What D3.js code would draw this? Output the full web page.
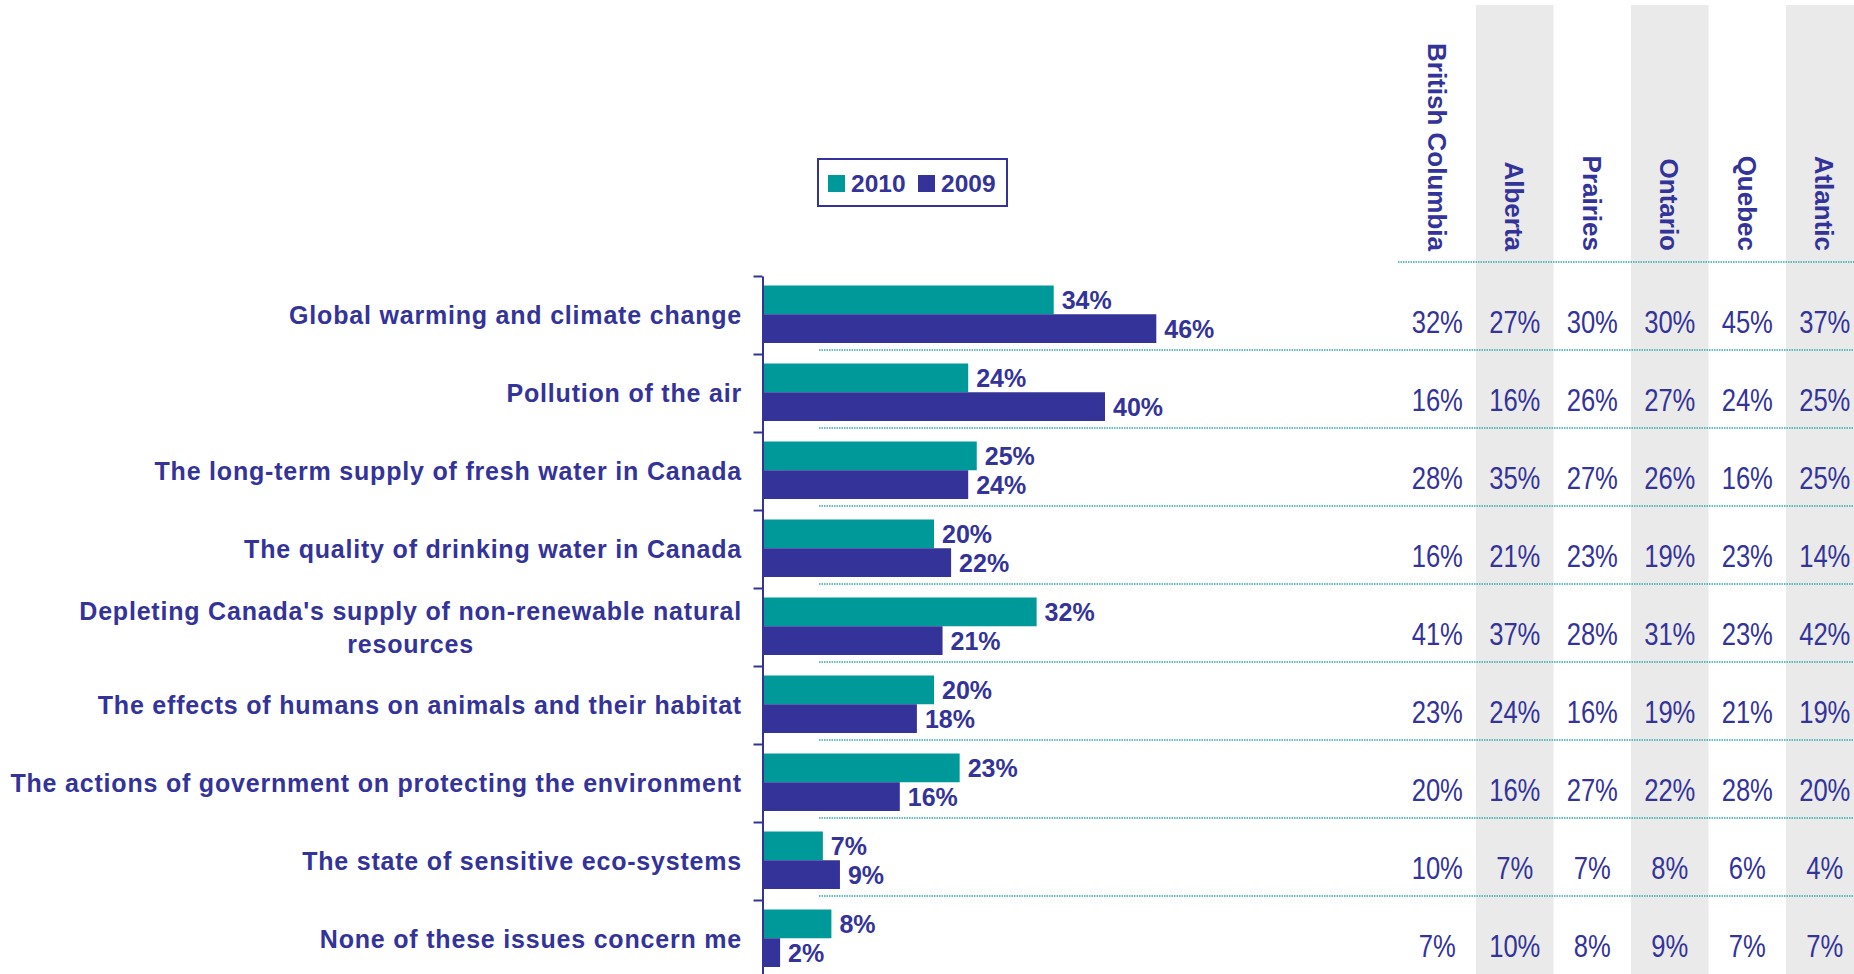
<!DOCTYPE html>
<html lang="en">
  <head>
    <meta charset="UTF-8" />
    <title>Environmental issues of concern</title>
    <style>
      html, body {
        margin: 0;
        padding: 0;
        background: #fff;
      }
      svg text {
        font-family: "Liberation Sans", Arial, sans-serif;
        fill: #333399;
      }
      .cat {
        font-size: 25px;
        font-weight: bold;
        letter-spacing: 0.8px;
      }
      .val {
        font-size: 25px;
        font-weight: bold;
      }
      .head {
        font-size: 26px;
        font-weight: bold;
      }
      .cell {
        font-size: 32px;
      }
      .sep {
        stroke: #33a9a9;
        stroke-width: 1.5;
        stroke-dasharray: 1.5 1;
      }
    </style>
    <script src="https://cdn.jsdelivr.net/npm/d3@7"></script>
  </head>
  <body>
    <svg id="chart" width="1854" height="974"></svg>
    <script>
      const categories = [
        ["Global warming and climate change"],
        ["Pollution of the air"],
        ["The long-term supply of fresh water in Canada"],
        ["The quality of drinking water in Canada"],
        ["Depleting Canada's supply of non-renewable natural", "resources"],
        ["The effects of humans on animals and their habitat"],
        ["The actions of government on protecting the environment"],
        ["The state of sensitive eco-systems"],
        ["None of these issues concern me"],
      ];
      const series = ["2010", "2009"];
      const values2010 = [34, 24, 25, 20, 32, 20, 23, 7, 8];
      const values2009 = [46, 40, 24, 22, 21, 18, 16, 9, 2];

      const regions = ["British Columbia", "Alberta", "Prairies", "Ontario", "Quebec", "Atlantic"];
      const bcValues = [32, 16, 28, 16, 41, 23, 20, 10, 7];
      const albertaValues = [27, 16, 35, 21, 37, 24, 16, 7, 10];
      const prairiesValues = [30, 26, 27, 23, 28, 16, 27, 7, 8];
      const ontarioValues = [30, 27, 26, 19, 31, 19, 22, 8, 9];
      const quebecValues = [45, 24, 16, 23, 23, 21, 28, 6, 7];
      const atlanticValues = [37, 25, 25, 14, 42, 19, 20, 4, 7];

      const colors = { "2010": "#009999", "2009": "#333399" };
      const regionValues = [bcValues, albertaValues, prairiesValues, ontarioValues, quebecValues, atlanticValues];

      const svg = d3.select("#chart");
      const W = 1854, H = 974;

      const idx = d3.range(categories.length);
      const y = d3.scaleBand().domain(idx).range([276, 978]);
      const ySub = d3.scaleBand().domain(series).range([9.5, 67]);
      const x = d3.scaleLinear().domain([0, 50]).range([763, 763 + 427.5]);
      const col = d3.scaleBand().domain(regions).range([1398.5, 1863.5]);

      // striped region columns
      svg.append("g")
        .selectAll("rect")
        .data(regions.filter((_, i) => i % 2 === 1))
        .join("rect")
        .attr("x", (d) => col(d))
        .attr("y", 5)
        .attr("width", col.bandwidth())
        .attr("height", H - 5)
        .attr("fill", "#eaeaea");

      // dotted separators
      svg.append("line")
        .attr("class", "sep")
        .attr("x1", 1398).attr("x2", W)
        .attr("y1", 262).attr("y2", 262);

      svg.append("g")
        .selectAll("line")
        .data(idx.slice(0, -1))
        .join("line")
        .attr("class", "sep")
        .attr("x1", 819).attr("x2", W)
        .attr("y1", (i) => y(i) + y.bandwidth() - 4)
        .attr("y2", (i) => y(i) + y.bandwidth() - 4);

      // bars
      const rows = svg.append("g")
        .selectAll("g")
        .data(idx)
        .join("g")
        .attr("transform", (i) => `translate(0,${y(i)})`);

      const barData = (i) => [
        { s: "2010", v: values2010[i] },
        { s: "2009", v: values2009[i] },
      ];

      rows.selectAll("rect")
        .data(barData)
        .join("rect")
        .attr("x", x(0))
        .attr("y", (d) => ySub(d.s))
        .attr("width", (d) => x(d.v) - x(0))
        .attr("height", ySub.bandwidth())
        .attr("fill", (d) => colors[d.s]);

      rows.selectAll("text.val")
        .data(barData)
        .join("text")
        .attr("class", "val")
        .attr("x", (d) => x(d.v) + 8)
        .attr("y", (d) => ySub(d.s) + ySub.bandwidth() / 2)
        .attr("dy", "0.36em")
        .text((d) => d.v + "%");

      // axis, ticks sit between categories
      const yAxisScale = d3.scaleLinear().domain([0, categories.length]).range([276, 978]);
      const axis = svg.append("g")
        .attr("transform", "translate(762.5,0)")
        .call(d3.axisLeft(yAxisScale).ticks(categories.length).tickFormat("").tickSize(9).tickSizeOuter(0));
      axis.selectAll("path, line").attr("stroke", "#333399").attr("stroke-width", 2);

      // category labels: block right aligned, lines centred inside it
      const labelRight = 742;
      const lineH = 33;
      idx.forEach((i) => {
        const lines = categories[i];
        const cy = y(i) + y.bandwidth() / 2;
        const t = svg.append("text").attr("class", "cat").attr("text-anchor", "middle");
        const spans = t.selectAll("tspan")
          .data(lines)
          .join("tspan")
          .attr("y", (d, k) => cy + (k - (lines.length - 1) / 2) * lineH)
          .attr("dy", "0.36em")
          .text((d) => d);
        let maxW = 0;
        spans.each(function () {
          maxW = Math.max(maxW, this.getComputedTextLength());
        });
        spans.attr("x", labelRight - maxW / 2);
      });

      // region headers
      svg.append("g")
        .selectAll("text")
        .data(regions)
        .join("text")
        .attr("class", "head")
        .attr("text-anchor", "end")
        .attr("dy", "0.36em")
        .attr("transform", (d) => `translate(${col(d) + col.bandwidth() / 2},251) rotate(90)`)
        .text((d) => d);

      // region table (narrow type)
      regions.forEach((r, c) => {
        svg.append("g")
          .selectAll("text")
          .data(regionValues[c])
          .join("text")
          .attr("class", "cell")
          .attr("text-anchor", "middle")
          .attr("transform", (d, i) => `translate(${col(r) + col.bandwidth() / 2},${y(i) + 56.5}) scale(0.8,1)`)
          .text((d) => d + "%");
      });

      // legend
      const legend = svg.append("g");
      legend.append("rect")
        .attr("x", 818).attr("y", 159)
        .attr("width", 189).attr("height", 47)
        .attr("fill", "#fff")
        .attr("stroke", "#333399")
        .attr("stroke-width", 2);
      const items = legend.selectAll("g")
        .data(series)
        .join("g")
        .attr("transform", (d, i) => `translate(${828 + i * 90},175)`);
      items.append("rect")
        .attr("width", 17).attr("height", 17)
        .attr("fill", (d) => colors[d]);
      items.append("text")
        .attr("class", "val")
        .style("font-size", "24.5px")
        .attr("x", 23).attr("y", 16.7)
        .text((d) => d);
    </script>
  </body>
</html>
